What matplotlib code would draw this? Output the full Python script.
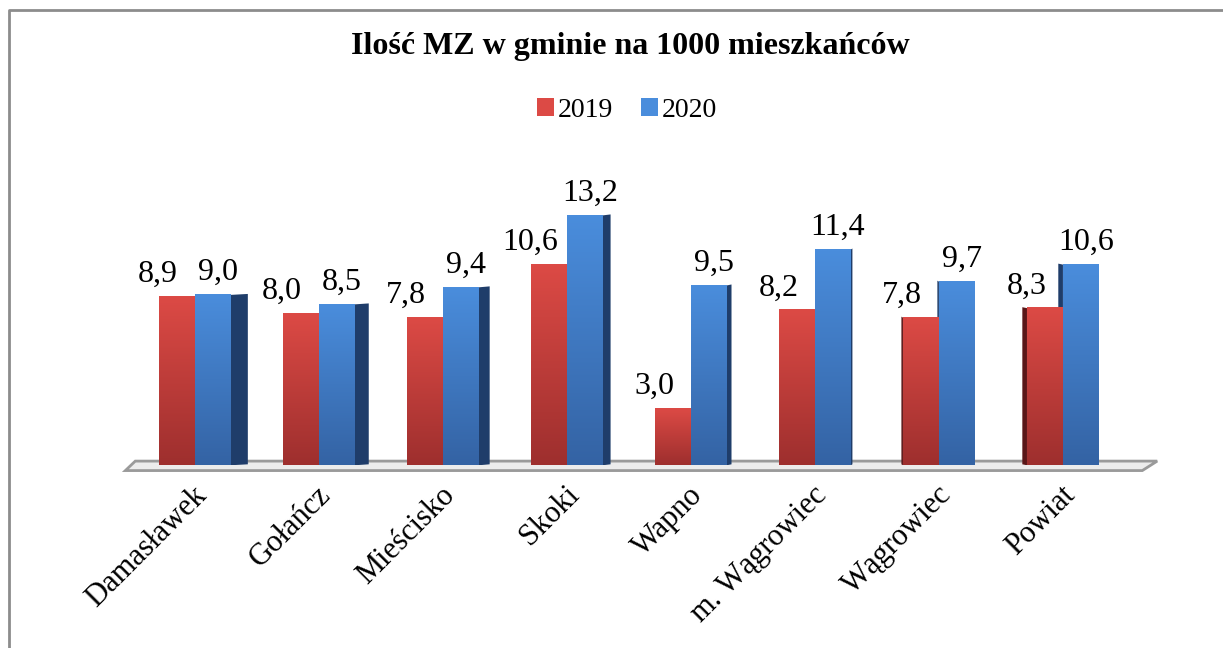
import numpy as np
import matplotlib.pyplot as plt
from matplotlib.patches import Polygon, Patch

# Data
gminy = ['Damasławek', 'Gołańcz', 'Mieścisko', 'Skoki', 'Wapno',
         'm. Wągrowiec', 'Wągrowiec', 'Powiat']
mz_2019 = [8.9, 8.0, 7.8, 10.6, 3.0, 8.2, 7.8, 8.3]
mz_2020 = [9.0, 8.5, 9.4, 13.2, 9.5, 11.4, 9.7, 10.6]

plt.rcParams['font.family'] = ['Liberation Serif', 'DejaVu Serif']

# colours (top, bottom, side)
red_top, red_bot, red_side = '#dc4a45', '#9e2f2e', '#5a1618'
blue_top, blue_bot, blue_side = '#4a8ddc', '#3463a4', '#1f3d6a'

fig = plt.figure(figsize=(12.23, 6.48), dpi=100)
ax = fig.add_axes([0.102, 0.282, 0.830, 0.409])
ax.set_xlim(-0.565, 7.62)
ax.set_ylim(0, 14)
ax.axis('off')

x = np.arange(len(gminy))
w = 0.29


def gradient_bar(bar, c_top, c_bot):
    # fill the bar rectangle with a vertical gradient
    x0, y0 = bar.get_x(), bar.get_y()
    bw, bh = bar.get_width(), bar.get_height()
    t = np.linspace(0, 1, 64)[:, None]
    ct = np.array(plt.matplotlib.colors.to_rgb(c_top))
    cb = np.array(plt.matplotlib.colors.to_rgb(c_bot))
    img = (ct * (1 - t) + cb * t)[:, None, :]
    ax.imshow(img, extent=[x0, x0 + bw, y0, y0 + bh], aspect='auto',
              zorder=bar.get_zorder(), interpolation='bilinear')


# floor
floor = Polygon([(-0.56, -0.28), (7.64, -0.28), (7.76, 0.22), (-0.48, 0.22)],
                closed=True, facecolor='#ececec', edgecolor='#9a9a9a',
                lw=2, zorder=1, clip_on=False)
ax.add_patch(floor)

bars19 = ax.bar(x - w / 2, mz_2019, w, color=red_top, zorder=4)
bars20 = ax.bar(x + w / 2, mz_2020, w, color=blue_top, zorder=4)

for i in range(len(gminy)):
    # pseudo-3D side faces, depth shrinks toward the right
    dx = 0.025 * (5.5 - i)
    dy = 0.05
    b19, b20 = bars19[i], bars20[i]
    if dx > 0:
        xr = b20.get_x() + w
        h = mz_2020[i]
        ax.add_patch(Polygon([(xr, 0), (xr + dx, dy), (xr + dx, h + dy), (xr, h)],
                             facecolor=blue_side, edgecolor='none', zorder=3))
    else:
        xl = b19.get_x()
        h = mz_2019[i]
        ax.add_patch(Polygon([(xl, 0), (xl + dx, dy), (xl + dx, h + dy), (xl, h)],
                             facecolor=red_side, edgecolor='none', zorder=3))
        xl = b20.get_x()
        h = mz_2020[i]
        ax.add_patch(Polygon([(xl, 0), (xl + dx, dy), (xl + dx, h + dy), (xl, h)],
                             facecolor=blue_side, edgecolor='none', zorder=2))
    gradient_bar(b19, red_top, red_bot)
    gradient_bar(b20, blue_top, blue_bot)
    b19.set_visible(False)
    b20.set_visible(False)

    ax.text(x[i] - w / 2 - 0.15, mz_2019[i] + 0.4, f'{mz_2019[i]:.1f}'.replace('.', ','),
            ha='center', va='bottom', fontsize=23, zorder=6)
    ax.text(x[i] + w / 2 + 0.04, mz_2020[i] + 0.4, f'{mz_2020[i]:.1f}'.replace('.', ','),
            ha='center', va='bottom', fontsize=23, zorder=6)

    ax.text(x[i] - 0.02, -0.8, gminy[i], rotation=45, ha='right', va='top',
            rotation_mode='anchor', fontsize=22)

fig.text(0.515, 0.928, 'Ilość MZ w gminie na 1000 mieszkańców', ha='center',
         va='center', fontsize=23, fontweight='bold')

handles = [Patch(facecolor=red_top, label='2019'), Patch(facecolor=blue_top, label='2020')]
fig.legend(handles=handles, loc='center', bbox_to_anchor=(0.513, 0.83), ncol=2,
           frameon=False, fontsize=20, handlelength=0.6, handleheight=0.6,
           handletextpad=0.15, columnspacing=1.0)

# outer frame (top and left edges)
fig.add_artist(plt.Line2D([0.0073, 0.0073, 1.0], [0.0, 0.985, 0.985],
                          color='#8c8c8c', lw=2, transform=fig.transFigure))

fig.savefig('out.png', dpi=100)
